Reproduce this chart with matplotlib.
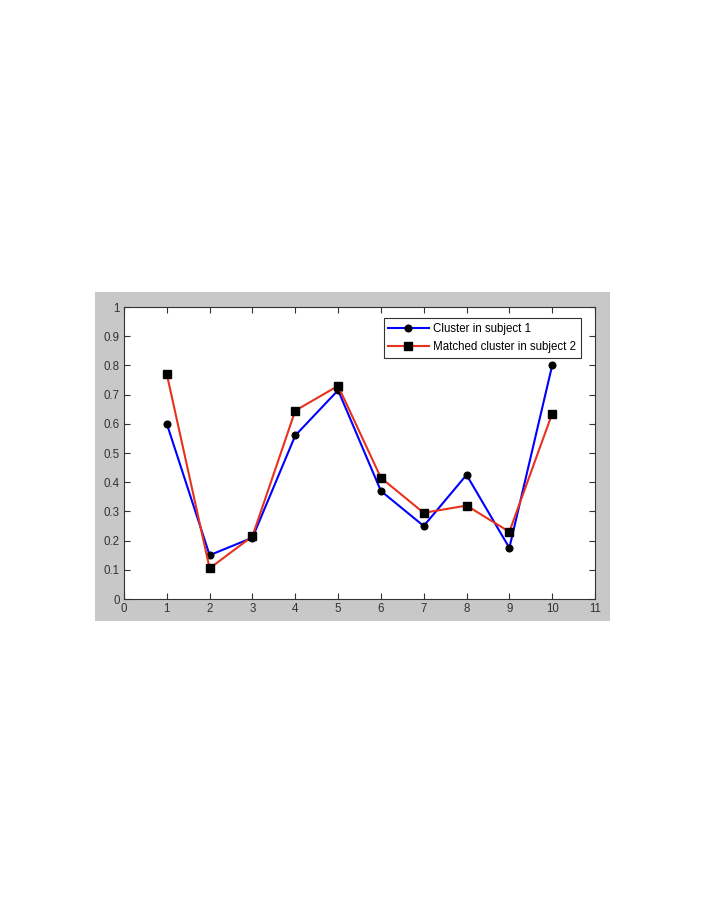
import matplotlib
matplotlib.use("Agg")
import matplotlib.pyplot as plt
from matplotlib.patches import Rectangle

x = [1, 2, 3, 4, 5, 6, 7, 8, 9, 10]
subject1 = [0.60, 0.15, 0.21, 0.56, 0.715, 0.37, 0.25, 0.425, 0.175, 0.80]
subject2 = [0.77, 0.105, 0.215, 0.645, 0.73, 0.415, 0.295, 0.32, 0.23, 0.635]
xticks = list(range(0, 12))
yticks = [0, 0.1, 0.2, 0.3, 0.4, 0.5, 0.6, 0.7, 0.8, 0.9, 1]
ytick_labels = ["0", "0.1", "0.2", "0.3", "0.4", "0.5", "0.6", "0.7", "0.8", "0.9", "1"]

plt.rcParams['font.family'] = ['Liberation Sans', 'DejaVu Sans']

W, H = 706, 913
fig = plt.figure(figsize=(W / 100, H / 100), dpi=100)
fig.patch.set_facecolor('white')

# gray panel
fig.patches.append(Rectangle((95 / W, 1 - 621 / H), 515 / W, 329 / H,
                             transform=fig.transFigure, facecolor='#c8c8c8',
                             edgecolor='none', zorder=-10))

ax = fig.add_axes([124 / W, 1 - 599 / H, (595 - 124) / W, (599 - 307) / H])
ax.set_zorder(5)
ax.set_facecolor('white')
ax.plot(x, subject1, color='#0000ff', lw=1.5, marker='o', ms=4.8,
        mfc='black', mec='black', label='Cluster in subject 1')
ax.plot(x, subject2, color='#e8321e', lw=1.5, marker='s', ms=5.4,
        mfc='black', mec='black', label='Matched cluster in subject 2')

ax.set_xlim(0, 11)
ax.set_ylim(0, 1)
ax.set_xticks(xticks)
ax.set_xticklabels([str(t) for t in xticks])
ax.set_yticks(yticks)
ax.set_yticklabels(ytick_labels)
ax.tick_params(direction='in', length=4, width=0.8, top=True, right=True,
               labelsize=8.3, colors='#333333', pad=3)
for s in ax.spines.values():
    s.set_color('#333333')
    s.set_linewidth(0.8)

leg = ax.legend(loc='upper right', bbox_to_anchor=(0.970, 0.962), fontsize=8.3,
                fancybox=False, framealpha=1, edgecolor='#333333',
                borderpad=0.4, handlelength=3.5, labelspacing=0.55,
                handletextpad=0.4, borderaxespad=0)
leg.get_frame().set_linewidth(0.8)

fig.savefig('out.png', dpi=100, facecolor='white')
